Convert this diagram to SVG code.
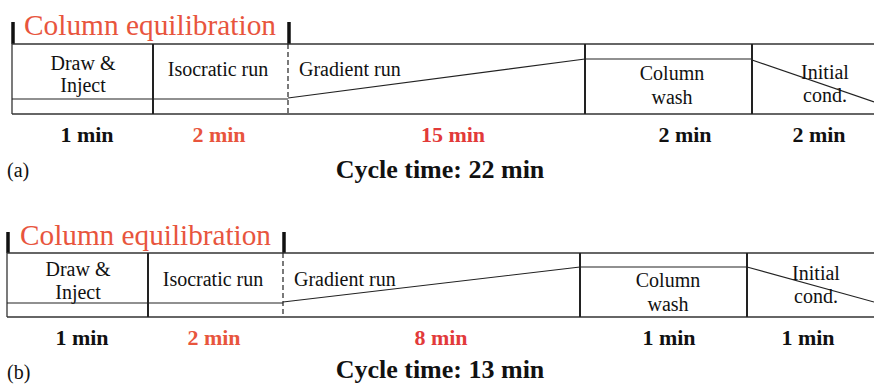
<svg xmlns="http://www.w3.org/2000/svg" width="874" height="384" viewBox="0 0 874 384" font-family="'Liberation Serif', 'Times New Roman', serif">
  <style>
    .frame { fill: none; stroke: #333; stroke-width: 1.3; }
    .div { stroke: #222; stroke-width: 2; }
    .dash { stroke: #222; stroke-width: 1.2; stroke-dasharray: 5 3; }
    .thin { fill: none; stroke: #222; stroke-width: 1.2; }
    .brk { stroke: #111; stroke-width: 3.5; }
    text { font-family: 'Liberation Serif', 'Times New Roman', serif; }
    .lbl { font-size: 20px; fill: #111; text-anchor: middle; }
    .eq { font-size: 28.5px; fill: #e8553d; }
    .dur { font-size: 22px; font-weight: bold; fill: #111; text-anchor: middle; }
    .red { fill: #e8553d; }
    .red2 { fill: #e23a3a; }
    .cyc { font-size: 26px; font-weight: bold; fill: #111; text-anchor: middle; }
    .tag { font-size: 20px; fill: #111; }
    .start { text-anchor: start; }
  </style>

  <!-- Panel (a): 22 min cycle -->
  <g id="panel-a">
    <g id="a-equilibration">
      <line class="brk" x1="13" y1="22" x2="13" y2="44"/>
      <line class="brk" x1="289" y1="22" x2="289" y2="44"/>
      <text class="eq" x="24" y="35" textLength="252" lengthAdjust="spacingAndGlyphs">Column equilibration</text>
    </g>
    <g id="a-frame">
      <line class="frame" x1="12" y1="44" x2="874" y2="44"/>
      <line class="frame" x1="12" y1="114" x2="874" y2="114"/>
      <line class="frame" x1="12" y1="44" x2="12" y2="114"/>
      <line class="thin" x1="12" y1="99" x2="288" y2="99"/>
    </g>
    <g id="a-draw-inject">
      <line class="div" x1="153" y1="44" x2="153" y2="114"/>
      <text class="lbl" x="83" y="70">Draw &amp;</text>
      <text class="lbl" x="83" y="92">Inject</text>
    </g>
    <g id="a-isocratic">
      <line class="dash" x1="288" y1="44" x2="288" y2="114"/>
      <text class="lbl" x="218" y="76">Isocratic run</text>
    </g>
    <g id="a-gradient">
      <polyline class="thin" points="288,98 585,59 752,59"/>
      <text class="lbl start" x="299" y="76">Gradient run</text>
    </g>
    <g id="a-wash">
      <line class="div" x1="585" y1="44" x2="585" y2="114"/>
      <text class="lbl" x="672" y="80">Column</text>
      <text class="lbl" x="672" y="104">wash</text>
    </g>
    <g id="a-initial">
      <line class="div" x1="752" y1="44" x2="752" y2="114"/>
      <line class="thin" x1="752" y1="60" x2="874" y2="102"/>
      <text class="lbl" x="825" y="79">Initial</text>
      <text class="lbl" x="825" y="102">cond.</text>
    </g>
    <g id="a-durations">
      <text class="dur" x="87" y="142">1 min</text>
      <text class="dur red" x="219" y="142">2 min</text>
      <text class="dur red2" x="453" y="142">15 min</text>
      <text class="dur" x="685" y="142">2 min</text>
      <text class="dur" x="819" y="142">2 min</text>
    </g>
    <text class="tag" x="7" y="177">(a)</text>
    <text class="cyc" x="440" y="178">Cycle time: 22 min</text>
  </g>

  <!-- Panel (b): 13 min cycle -->
  <g id="panel-b">
    <g id="b-equilibration">
      <line class="brk" x1="8" y1="232" x2="8" y2="253"/>
      <line class="brk" x1="284" y1="232" x2="284" y2="253"/>
      <text class="eq" x="20" y="245" textLength="251" lengthAdjust="spacingAndGlyphs">Column equilibration</text>
    </g>
    <g id="b-frame">
      <line class="frame" x1="7" y1="253" x2="874" y2="253"/>
      <line class="frame" x1="7" y1="317" x2="874" y2="317"/>
      <line class="frame" x1="7" y1="253" x2="7" y2="317"/>
      <line class="thin" x1="7" y1="303" x2="283" y2="303"/>
    </g>
    <g id="b-draw-inject">
      <line class="div" x1="148" y1="253" x2="148" y2="317"/>
      <text class="lbl" x="78" y="276">Draw &amp;</text>
      <text class="lbl" x="78" y="299">Inject</text>
    </g>
    <g id="b-isocratic">
      <line class="dash" x1="283" y1="253" x2="283" y2="317"/>
      <text class="lbl" x="213" y="286">Isocratic run</text>
    </g>
    <g id="b-gradient">
      <polyline class="thin" points="283,302 580,267 747,267"/>
      <text class="lbl start" x="294" y="286">Gradient run</text>
    </g>
    <g id="b-wash">
      <line class="div" x1="580" y1="253" x2="580" y2="317"/>
      <text class="lbl" x="668" y="287">Column</text>
      <text class="lbl" x="668" y="311">wash</text>
    </g>
    <g id="b-initial">
      <line class="div" x1="747" y1="253" x2="747" y2="317"/>
      <line class="thin" x1="747" y1="267" x2="874" y2="302"/>
      <text class="lbl" x="816" y="280">Initial</text>
      <text class="lbl" x="816" y="303">cond.</text>
    </g>
    <g id="b-durations">
      <text class="dur" x="82" y="345">1 min</text>
      <text class="dur red" x="214" y="345">2 min</text>
      <text class="dur red2" x="441" y="345">8 min</text>
      <text class="dur" x="669" y="345">1 min</text>
      <text class="dur" x="808" y="345">1 min</text>
    </g>
    <text class="tag" x="7" y="379">(b)</text>
    <text class="cyc" x="440" y="378">Cycle time: 13 min</text>
  </g>
</svg>
